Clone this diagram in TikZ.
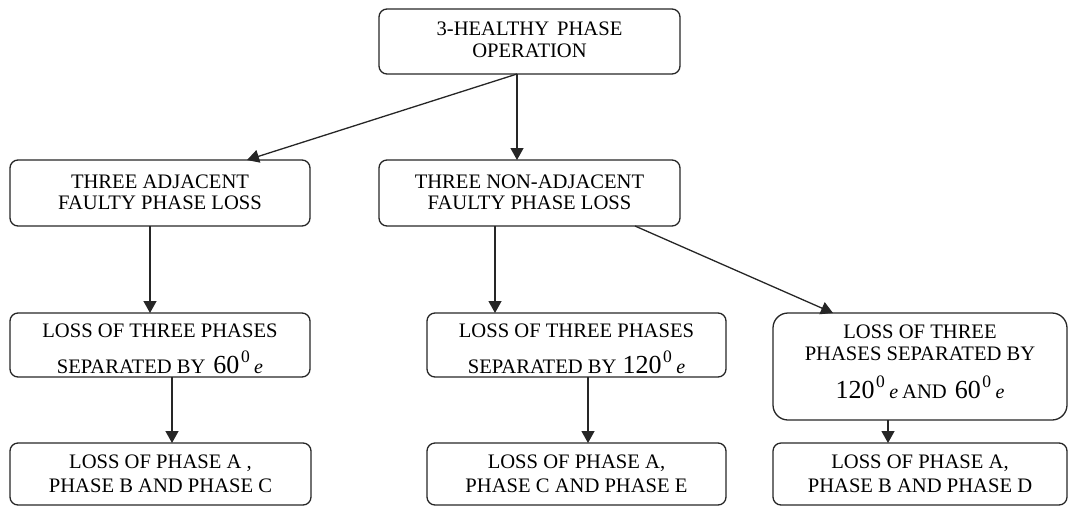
\documentclass[tikz,border=0pt]{standalone}
\usepackage{fontspec}
\setmainfont{Liberation Serif}
\usetikzlibrary{arrows.meta}
% electrical degrees: large digits, raised 0, italic e
\newcommand{\elecdeg}[1]{{\fontsize{26}{26}\selectfont #1}\hspace{1.5pt}\raisebox{11pt}{\fontsize{17.5}{17.5}\selectfont 0}\hspace{4.5pt}{\fontsize{20}{20}\selectfont\itshape e}}
\begin{document}
\begin{tikzpicture}[x=1pt,y=-1pt,
  box/.style={draw=black!85, line width=1.3pt, rounded corners=8pt,
    align=center, inner sep=0pt, outer sep=0pt, text=black,
    font={\fontsize{20.6}{22}\selectfont}},
  arr/.style={draw=black!85, line width=1.3pt,
    -{Triangle[width=13pt,length=12pt]}}]
\useasboundingbox (0,0) rectangle (1068,507);

% level 1
\node[box, minimum width=301pt, minimum height=65pt] (top) at (529.5,41.5)
  {3-HEALTHY\hspace{8pt}PHASE\\OPERATION\rule[-4.3pt]{0pt}{0pt}};

% level 2
\node[box, minimum width=300pt, minimum height=66pt] (adj) at (160,193)
  {THREE ADJACENT\\[-1pt]FAULTY PHASE LOSS\rule[-2.3pt]{0pt}{0pt}};
\node[box, minimum width=301pt, minimum height=66pt] (nonadj) at (529.5,193)
  {THREE NON-ADJACENT\\[-1pt]FAULTY PHASE LOSS\rule[-2.3pt]{0pt}{0pt}};

% level 3
\node[box, minimum width=300pt, minimum height=64pt] (l3a) at (160,345)
  {\rule{0pt}{22pt}LOSS OF THREE PHASES\\[12pt]SEPARATED BY\hspace{8pt}\elecdeg{60}};
\node[box, minimum width=299pt, minimum height=64pt] (l3b) at (576.5,345)
  {\rule{0pt}{22pt}LOSS OF THREE PHASES\\[12pt]SEPARATED BY\hspace{6pt}\elecdeg{120}};
\node[box, rounded corners=15pt, minimum width=294pt, minimum height=107pt] (l3c) at (920,366.5)
  {LOSS OF THREE\\PHASES SEPARATED BY\\[14pt]\elecdeg{120}\hspace{4pt}AND\hspace{8pt}\elecdeg{60}\rule[-10.3pt]{0pt}{0pt}};

% level 4
\node[box, minimum width=301pt, minimum height=62pt] (l4a) at (160.5,474)
  {LOSS OF PHASE A ,\\[2pt]PHASE B AND PHASE C};
\node[box, minimum width=299pt, minimum height=62pt] (l4b) at (576.5,474)
  {LOSS OF PHASE A,\\[2pt]PHASE C AND PHASE E};
\node[box, minimum width=294pt, minimum height=62pt] (l4c) at (920,474)
  {LOSS OF PHASE A,\\[2pt]PHASE B AND PHASE D};

% connectors
\draw[arr] ([xshift=138pt]top.south west) -- ([xshift=237pt]adj.north west);
\draw[arr] ([xshift=138pt]top.south west) -- ([xshift=138pt]nonadj.north west);
\draw[arr] ([xshift=140pt]adj.south west) -- ([xshift=140pt]l3a.north west);
\draw[arr] ([xshift=116pt]nonadj.south west) -- ([xshift=68pt]l3b.north west);
\draw[arr] ([xshift=256pt]nonadj.south west) -- ([xshift=60pt]l3c.north west);
\draw[arr] ([xshift=162pt]l3a.south west) -- ([xshift=162pt]l4a.north west);
\draw[arr] ([xshift=161pt]l3b.south west) -- ([xshift=161pt]l4b.north west);
\draw[arr] ([xshift=115pt]l3c.south west) -- ([xshift=115pt]l4c.north west);
\end{tikzpicture}
\end{document}
